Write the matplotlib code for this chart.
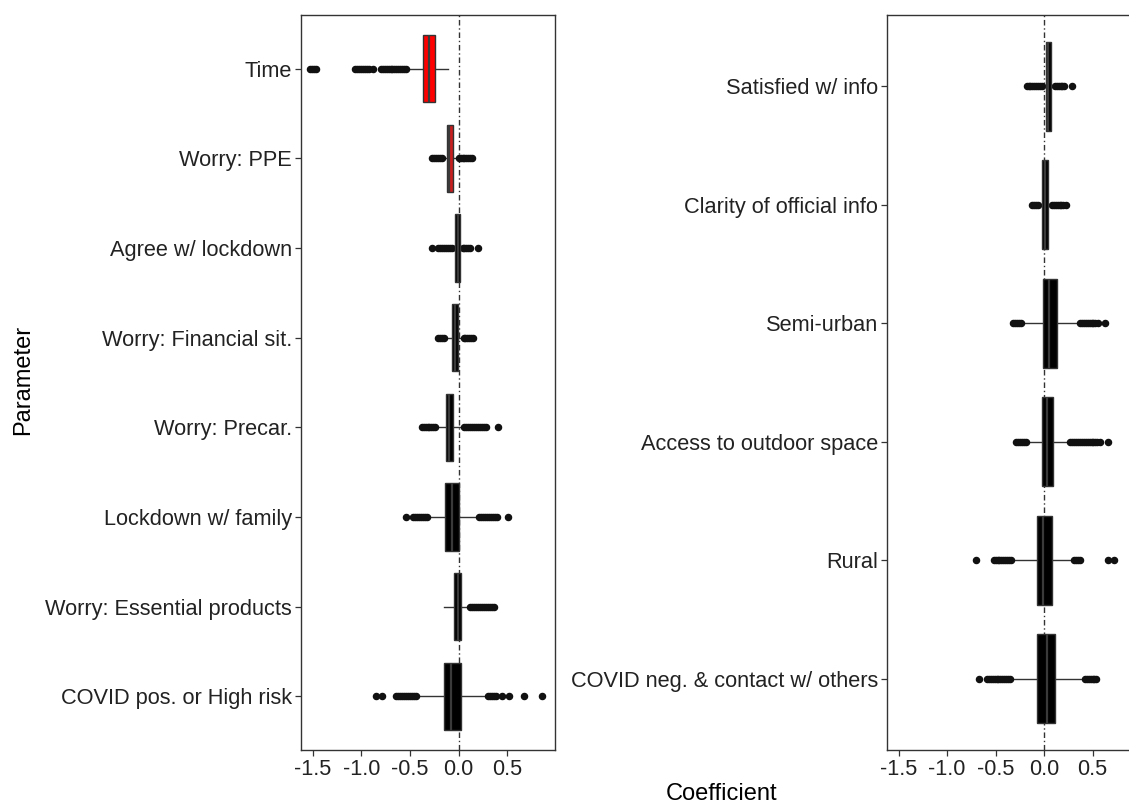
import matplotlib
matplotlib.use("Agg")
import matplotlib.pyplot as plt

plt.rcParams['font.family'] = ['Liberation Sans', 'DejaVu Sans']

# ---------------- data ----------------
left_labels = ["Time", "Worry: PPE", "Agree w/ lockdown", "Worry: Financial sit.",
               "Worry: Precar.", "Lockdown w/ family", "Worry: Essential products",
               "COVID pos. or High risk"]
left_q1 = [-0.364, -0.117, -0.038, -0.072, -0.131, -0.141, -0.045, -0.152]
left_med = [-0.306, -0.100, -0.010, -0.040, -0.100, -0.072, -0.010, -0.080]
left_q3 = [-0.244, -0.056, 0.013, -0.004, -0.056, 0.003, 0.024, 0.024]
left_whislo = [-0.52, -0.17, -0.06, -0.13, -0.23, -0.33, -0.15, -0.42]
left_whishi = [-0.107, -0.01, 0.035, 0.04, 0.04, 0.20, 0.116, 0.29]
left_fliers = [
    [-1.53, -1.51, -1.49, -1.47, -1.06, -1.04, -1.02, -1.00, -0.98, -0.96, -0.94,
     -0.92, -0.88, -0.80, -0.78, -0.76, -0.74, -0.72, -0.70, -0.68, -0.66, -0.64,
     -0.62, -0.60, -0.58, -0.56, -0.54],
    [-0.27, -0.25, -0.23, -0.21, -0.19, -0.175, 0.00, 0.02, 0.04, 0.06, 0.08, 0.10,
     0.12, 0.135],
    [-0.27, -0.21, -0.19, -0.17, -0.15, -0.13, -0.11, -0.09, -0.07, 0.04, 0.06,
     0.08, 0.10, 0.12, 0.20],
    [-0.21, -0.19, -0.17, -0.15, 0.05, 0.07, 0.09, 0.11, 0.13, 0.15],
    [-0.38, -0.36, -0.34, -0.32, -0.30, -0.28, -0.26, -0.24, 0.06, 0.08, 0.10,
     0.12, 0.14, 0.16, 0.18, 0.20, 0.22, 0.24, 0.26, 0.28, 0.40],
    [-0.536, -0.47, -0.45, -0.43, -0.41, -0.39, -0.37, -0.35, -0.33, 0.21, 0.23,
     0.25, 0.27, 0.29, 0.31, 0.33, 0.35, 0.37, 0.39, 0.51],
    [0.12, 0.14, 0.16, 0.18, 0.20, 0.22, 0.24, 0.26, 0.28, 0.30, 0.32, 0.34, 0.36],
    [-0.853, -0.785, -0.64, -0.62, -0.60, -0.58, -0.56, -0.54, -0.52, -0.50, -0.48,
     -0.46, -0.44, 0.30, 0.32, 0.34, 0.36, 0.38, 0.45, 0.52, 0.67, 0.86],
]
left_fill = ["#ff0000", "#c81e1e", "black", "black", "black", "black", "black", "black"]

right_labels = ["Satisfied w/ info", "Clarity of official info", "Semi-urban",
                "Access to outdoor space", "Rural", "COVID neg. & contact w/ others"]
right_q1 = [0.020, -0.017, -0.014, -0.024, -0.069, -0.069]
right_med = [0.045, 0.010, 0.050, 0.030, -0.007, 0.027]
right_q3 = [0.072, 0.038, 0.130, 0.090, 0.079, 0.113]
right_whislo = [-0.01, -0.05, -0.22, -0.18, -0.32, -0.33]
right_whishi = [0.10, 0.07, 0.354, 0.26, 0.30, 0.405]
right_fliers = [
    [-0.18, -0.16, -0.14, -0.12, -0.10, -0.08, -0.06, -0.04, -0.024, 0.11, 0.13,
     0.15, 0.17, 0.19, 0.21, 0.285],
    [-0.12, -0.10, -0.08, -0.06, 0.08, 0.10, 0.12, 0.14, 0.16, 0.18, 0.20, 0.23],
    [-0.32, -0.30, -0.28, -0.26, -0.24, 0.37, 0.39, 0.41, 0.43, 0.45, 0.47, 0.49,
     0.51, 0.53, 0.56, 0.63],
    [-0.29, -0.27, -0.25, -0.23, -0.21, -0.19, 0.27, 0.29, 0.31, 0.33, 0.35, 0.37,
     0.39, 0.41, 0.43, 0.45, 0.47, 0.49, 0.51, 0.53, 0.55, 0.58, 0.66],
    [-0.70, -0.52, -0.50, -0.48, -0.46, -0.44, -0.42, -0.40, -0.38, -0.36, -0.34,
     0.31, 0.33, 0.35, 0.37, 0.66, 0.72],
    [-0.667, -0.59, -0.57, -0.55, -0.53, -0.51, -0.49, -0.47, -0.45, -0.43, -0.41,
     -0.39, -0.37, -0.35, 0.42, 0.44, 0.46, 0.48, 0.50, 0.52, 0.54],
]
right_fill = ["black"] * 6

x_ticks = [-1.5, -1.0, -0.5, 0.0, 0.5]
x_tick_labels = ["-1.5", "-1.0", "-0.5", "0.0", "0.5"]

# ---------------- figure ----------------
W, H = 1129, 805
fig = plt.figure(figsize=(W / 100, H / 100), dpi=100)


def px_axes(x0, y0, x1, y1):
    return fig.add_axes([x0 / W, 1 - y1 / H, (x1 - x0) / W, (y1 - y0) / H])


edge = "#333333"


def draw_panel(ax, labels, q1, med, q3, wlo, whi, fliers, fills):
    n = len(labels)
    stats = []
    for i in range(n):
        stats.append(dict(label=labels[i], q1=q1[i], med=med[i], q3=q3[i],
                          whislo=wlo[i], whishi=whi[i], fliers=fliers[i]))
    positions = list(range(1, n + 1))
    ax.axvline(0, color="#333333", lw=1.0, ls=(0, (4, 2, 1, 2)), zorder=1)
    bp = ax.bxp(stats, positions=positions, vert=False, widths=0.75,
                patch_artist=True, showcaps=False,
                boxprops=dict(edgecolor=edge, linewidth=1.0),
                whiskerprops=dict(color=edge, linewidth=1.0),
                medianprops=dict(color="#3a3a3a", linewidth=1.6),
                flierprops=dict(marker="o", markersize=4.4, markerfacecolor="#111111",
                                markeredgecolor="#111111", linestyle="none"))
    for patch, c in zip(bp["boxes"], fills):
        patch.set_facecolor(c)
        patch.set_zorder(3)
    for m in bp["medians"]:
        m.set_zorder(4)
    ax.set_ylim(n + 0.6, 0.4)
    ax.set_yticks(positions)
    ax.set_yticklabels(labels)
    ax.set_xlim(-1.62, 0.99)
    ax.set_xticks(x_ticks)
    ax.set_xticklabels(x_tick_labels)
    for s in ax.spines.values():
        s.set_color("#333333")
        s.set_linewidth(1.0)
    ax.tick_params(axis="both", length=4, width=0.9, color="#333333",
                   labelsize=15.7, labelcolor="#222222", pad=2.5)
    ax.grid(False)


ax1 = px_axes(301, 15, 555, 750)
draw_panel(ax1, left_labels, left_q1, left_med, left_q3, left_whislo, left_whishi,
           left_fliers, left_fill)

ax2 = px_axes(887, 15, 1140, 750)
draw_panel(ax2, right_labels, right_q1, right_med, right_q3, right_whislo,
           right_whishi, right_fliers, right_fill)

fig.text(23 / W, 1 - 380 / H, "Parameter", rotation=90, ha="center", va="center",
         fontsize=17, color="black")
fig.text(722 / W, 1 - 800 / H, "Coefficient", ha="center", va="baseline",
         fontsize=17, color="black")

fig.savefig("out.png", dpi=100)
